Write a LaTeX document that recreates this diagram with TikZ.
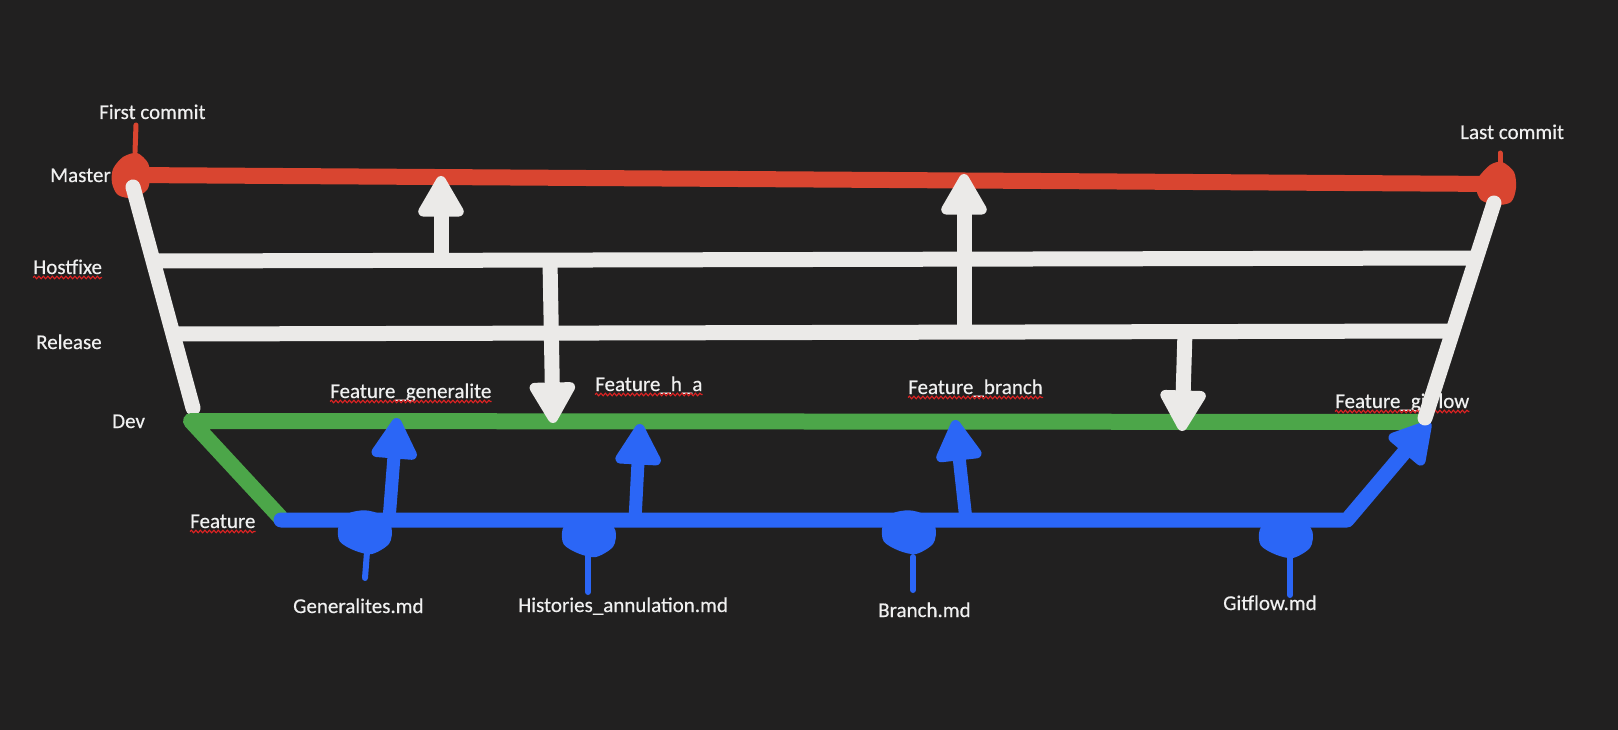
\documentclass[tikz,border=0pt]{standalone}
\usepackage{fontspec}
\setmainfont{Carlito}[FakeBold=0.4]
\usetikzlibrary{arrows.meta,decorations.pathmorphing,calc}
\definecolor{bg}{RGB}{33,32,32}
\definecolor{redc}{RGB}{217,69,48}
\definecolor{greenc}{RGB}{76,166,73}
\definecolor{bluec}{RGB}{43,102,246}
\definecolor{whitec}{RGB}{235,234,232}
\definecolor{txt}{RGB}{240,240,240}
\definecolor{squig}{RGB}{225,35,35}
\begin{document}
\begin{tikzpicture}[x=1pt,y=-1pt,
  lbl/.style={anchor=base west, inner sep=0pt, text=txt, font=\fontsize{21}{24}\selectfont},
  wline/.style={whitec, line width=15pt},
  wdiag/.style={whitec, line width=15pt, line cap=round},
  headtip/.style={-{Triangle[round, length=46pt, width=50pt, line width=10pt]}},
  warrow/.style={whitec, line width=15pt, headtip},
  barrow/.style={bluec, line width=13pt, headtip},
  tail/.style={bluec, line width=6pt, line cap=round},
  rtick/.style={redc, line width=5pt, line cap=round},
  squiggle/.style={squig, line width=1.1pt, decorate, decoration={snake, amplitude=1.3pt, segment length=4.5pt}}
]
\useasboundingbox (0,0) rectangle (1618,730);
\fill[bg] (0,0) rectangle (1618,730);

% ---------- coordinates ----------
\coordinate (m0) at (131,175);
\coordinate (m1) at (1496,184);
\coordinate (ft0) at (136,125);
\coordinate (ft1) at (135,152);
\coordinate (lt0) at (1500,153);
\coordinate (lt1) at (1500,168);
\coordinate (h0) at (153,261);
\coordinate (h1) at (1473,258);
\coordinate (r0) at (173,334);
\coordinate (r1) at (1451,331);
\coordinate (ld0) at (133,187);
\coordinate (ld1) at (193,408);
\coordinate (rd0) at (1494,203);
\coordinate (rd1) at (1425,418);
\coordinate (d0) at (191,421);
\coordinate (d1) at (1420,422);
\coordinate (f0) at (280,517);
\coordinate (b0) at (281,520);
\coordinate (b1) at (1347,520);
\coordinate (gtip) at (1430,422);
% white arrows
\coordinate (w1s) at (441,261);  \coordinate (w1e) at (441,176);
\coordinate (w2s) at (550,261);  \coordinate (w2e) at (553,423);
\coordinate (w3s) at (964,332);  \coordinate (w3e) at (964,174);
\coordinate (w4s) at (1185,332); \coordinate (w4e) at (1182,431);
% blue arrows
\coordinate (a1s) at (389,520); \coordinate (a1e) at (397,418);
\coordinate (a2s) at (635,520); \coordinate (a2e) at (640,424);
\coordinate (a3s) at (966,520); \coordinate (a3e) at (955,420);
% blobs
\coordinate (c1) at (365,531);
\coordinate (c2) at (589,534);
\coordinate (c3) at (909,531);
\coordinate (c4) at (1286,535);
\coordinate (t1s) at (367,552); \coordinate (t1e) at (365,578);
\coordinate (t2s) at (588,556); \coordinate (t2e) at (588,592);
\coordinate (t3s) at (913,557); \coordinate (t3e) at (913,590);
\coordinate (t4s) at (1290,553); \coordinate (t4e) at (1290,595);

% ---------- master (red) ----------
\draw[redc, line width=16pt] (m0) -- (m1);
\fill[redc, shift={(m0)}] plot[smooth cycle] coordinates {(-18,-6) (-8,-18) (6,-22) (17,-12) (19,2) (16,15) (2,23) (-13,20) (-19,8)};
\fill[redc, shift={(m1)}] plot[smooth cycle] coordinates {(-18,-6) (-6,-19) (6,-22) (18,-12) (20,4) (15,18) (0,21) (-15,16) (-20,4)};
\draw[rtick] (ft0) -- (ft1);
\draw[rtick] (lt0) -- (lt1);

% ---------- hotfix / release (white) ----------
\draw[wline] (h0) -- (h1);
\draw[wline] (r0) -- (r1);
\draw[wdiag] (ld0) -- (ld1);

% ---------- dev (green) ----------
\draw[greenc, line width=16pt, line cap=round, line join=round] (d1) -- (d0) -- (f0);

% ---------- white merge arrows ----------
\draw[warrow] (w1s) -- (w1e);
\draw[warrow] (w2s) -- (w2e);
\draw[warrow] (w3s) -- (w3e);
\draw[warrow] (w4s) -- (w4e);

% ---------- feature (blue) ----------
\draw[bluec, line width=15pt, line cap=round, line join=round, headtip] (b0) -- (b1) -- (gtip);
\draw[barrow] (a1s) -- (a1e);
\draw[barrow] (a2s) -- (a2e);
\draw[barrow] (a3s) -- (a3e);
\foreach \c in {c1,c2,c3,c4}{
  \fill[bluec, shift={(\c)}, scale=1.15] plot[smooth cycle] coordinates {(-23,-4) (-15,-15) (0,-18) (14,-14) (23,-3) (21,11) (6,20) (-9,17) (-22,9)};
}
\draw[tail] (t1s) -- (t1e);
\draw[tail] (t2s) -- (t2e);
\draw[tail] (t3s) -- (t3e);
\draw[tail] (t4s) -- (t4e);

% ---------- labels ----------
\node[lbl] (first) at (99,119) {First commit};
\node[lbl] (last) at (1460,139) {Last commit};
\node[lbl] (master) at (50,182) {Master};
\node[lbl] (hotfix) at (33,274) {Hostfixe};
\node[lbl] (release) at (36,349) {Release};
\node[lbl] (dev) at (112,428) {Dev};
\node[lbl] (feature) at (190,528) {Feature};
\node[lbl] (fgen) at (330,398) {Feature\_generalite};
\node[lbl] (fha) at (595,391) {Feature\_h\_a};
\node[lbl] (fbr) at (908,394) {Feature\_branch};
\node[lbl] (fgit) at (1335,408) {Feature\_gitflow};
\node[lbl] (gmd) at (293,613) {Generalites.md};
\node[lbl] (hmd) at (518,612) {Histories\_annulation.md};
\node[lbl] (bmd) at (878,617) {Branch.md};
\node[lbl] (gitmd) at (1223,610) {Gitflow.md};

\foreach \n in {hotfix,feature,fgen,fha,fbr,fgit}{
  \draw[squiggle] ($(\n.base west)+(0,3.5)$) -- ($(\n.base east)+(0,3.5)$);
}
% white diagonal (Last commit to Dev) passes over the Feature_gitflow text
\draw[wdiag] (rd0) -- (rd1);
\end{tikzpicture}
\end{document}
